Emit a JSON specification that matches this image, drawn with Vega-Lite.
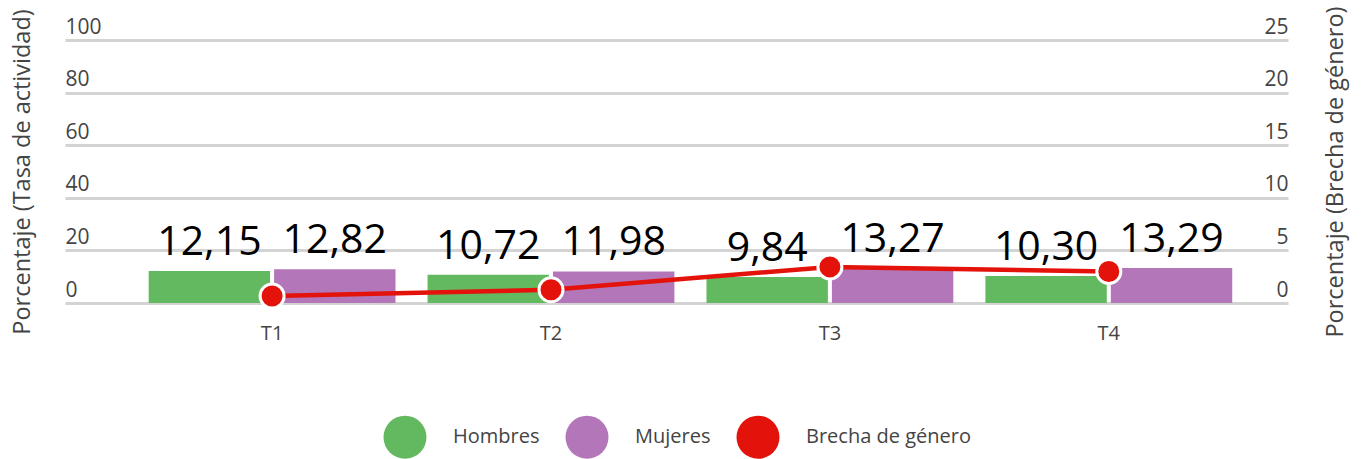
{
  "$schema": "https://vega.github.io/schema/vega-lite/v6.json",
  "width": 1223,
  "height": 263,
  "autosize": {"type": "none"},
  "padding": {"left": 65, "top": 40, "right": 75, "bottom": 156},
  "config": {
    "font": "Open Sans",
    "view": {"stroke": null},
    "locale": {"number": {"decimal": ",", "thousands": ".", "grouping": [3], "currency": ["", " €"]}},
    "legend": {
      "orient": "bottom",
      "direction": "horizontal",
      "layout": {"bottom": {"anchor": "middle"}},
      "symbolType": "circle",
      "symbolSize": 1850,
      "symbolStrokeWidth": 0,
      "symbolOpacity": 1,
      "labelFontSize": 20,
      "labelColor": "#444444",
      "labelOffset": 26,
      "labelLimit": 400,
      "columnPadding": 25,
      "offset": 72
    }
  },
  "encoding": {
    "x": {
      "field": "trimestre",
      "type": "nominal",
      "sort": ["T1", "T2", "T3", "T4"],
      "scale": {"paddingInner": 0.115, "paddingOuter": 0.25, "align": 0.6},
      "axis": {
        "title": null,
        "labelAngle": 0,
        "domain": false,
        "ticks": false,
        "tickSize": 0,
        "grid": false,
        "labelPadding": 20,
        "labelFontSize": 20,
        "labelColor": "#444444"
      }
    }
  },
  "layer": [
    {
      "data": {
        "values": [
          {"trimestre": "T1", "sexo": "Hombres", "valor": 12.15},
          {"trimestre": "T1", "sexo": "Mujeres", "valor": 12.82},
          {"trimestre": "T2", "sexo": "Hombres", "valor": 10.72},
          {"trimestre": "T2", "sexo": "Mujeres", "valor": 11.98},
          {"trimestre": "T3", "sexo": "Hombres", "valor": 9.84},
          {"trimestre": "T3", "sexo": "Mujeres", "valor": 13.27},
          {"trimestre": "T4", "sexo": "Hombres", "valor": 10.30},
          {"trimestre": "T4", "sexo": "Mujeres", "valor": 13.29}
        ]
      },
      "encoding": {
        "xOffset": {
          "field": "sexo",
          "type": "nominal",
          "sort": ["Hombres", "Mujeres"],
          "scale": {"paddingInner": 0.032, "paddingOuter": 0}
        },
        "y": {
          "field": "valor",
          "type": "quantitative",
          "scale": {"domain": [0, 100]},
          "axis": {
            "orient": "left",
            "title": "Porcentaje (Tasa de actividad)",
            "values": [0, 20, 40, 60, 80, 100],
            "grid": true,
            "gridColor": "#d3d3d3",
            "gridWidth": 3,
            "domain": false,
            "ticks": false,
            "tickSize": 0,
            "labelAlign": "left",
            "labelBaseline": "alphabetic",
            "labelOffset": -7,
            "labelPadding": 0,
            "labelFontSize": 21,
            "labelColor": "#444444",
            "titleFontSize": 23.5,
            "titleFontWeight": "normal",
            "titleColor": "#444444",
            "titlePadding": 31
          }
        }
      },
      "layer": [
        {
          "mark": {"type": "bar"},
          "encoding": {
            "color": {
              "field": "sexo",
              "type": "nominal",
              "scale": {
                "domain": ["Hombres", "Mujeres", "Brecha de género"],
                "range": ["#63b95f", "#b376b8", "#e3120b"]
              },
              "legend": {"title": null}
            }
          }
        },
        {
          "mark": {"type": "text", "baseline": "bottom", "dy": -7, "fontSize": 41, "color": "#000000"},
          "encoding": {
            "text": {"field": "valor", "type": "quantitative", "format": ".2f"}
          }
        }
      ]
    },
    {
      "data": {
        "values": [
          {"trimestre": "T1", "brecha": 0.67},
          {"trimestre": "T2", "brecha": 1.26},
          {"trimestre": "T3", "brecha": 3.43},
          {"trimestre": "T4", "brecha": 2.99}
        ]
      },
      "encoding": {
        "y": {
          "field": "brecha",
          "type": "quantitative",
          "scale": {"domain": [0, 25]},
          "axis": {
            "orient": "right",
            "title": "Porcentaje (Brecha de género)",
            "values": [0, 5, 10, 15, 20, 25],
            "grid": false,
            "domain": false,
            "ticks": false,
            "tickSize": 0,
            "labelAlign": "right",
            "labelBaseline": "alphabetic",
            "labelOffset": -7,
            "labelPadding": 0,
            "labelFontSize": 21,
            "labelColor": "#444444",
            "titleFontSize": 23.5,
            "titleFontWeight": "normal",
            "titleColor": "#444444",
            "titleAngle": 270,
            "titleBaseline": "top",
            "titlePadding": 35
          }
        }
      },
      "layer": [
        {
          "mark": {"type": "line", "color": "#e3120b", "strokeWidth": 4.5},
          "encoding": {}
        },
        {
          "mark": {"type": "point", "filled": true, "fill": "#e3120b", "stroke": "#ffffff", "strokeWidth": 3, "size": 576, "opacity": 1},
          "encoding": {}
        }
      ]
    }
  ],
  "resolve": {"scale": {"y": "independent"}}
}
